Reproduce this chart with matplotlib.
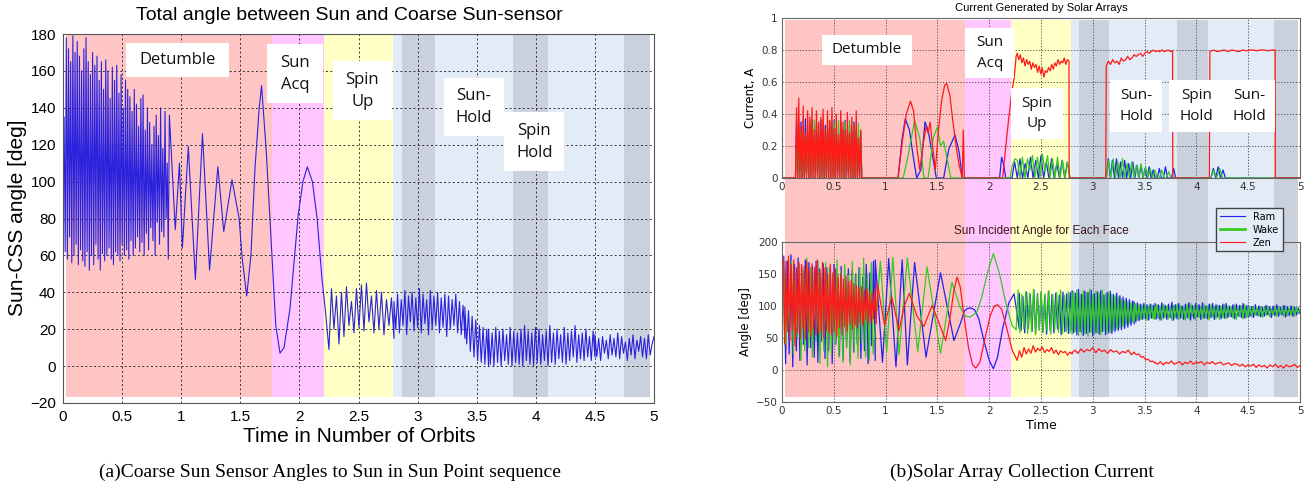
"""
Sun point sequence: CSS angle (left) and solar array current / face angles (right).
"""
import numpy as np
import matplotlib
matplotlib.use('Agg')
import matplotlib.pyplot as plt
from matplotlib.patches import Rectangle
from matplotlib.lines import Line2D

# ---------------- data ----------------
# left: total angle between Sun and CSS [deg]
css_detumble = [95, 135, 62, 178, 58, 172, 70, 165, 56, 179, 60, 170, 66, 176, 55, 168, 63, 160,
                57, 172, 54, 178, 62, 165, 52, 158, 60, 170, 55, 163, 66, 168, 58, 155, 52, 165,
                61, 150, 57, 166, 60, 160, 64, 145, 58, 162, 55, 155, 62, 163, 60, 148, 57, 158,
                66, 140, 60, 155, 63, 150, 58, 146, 68, 138, 60, 150, 64, 142, 70, 130, 62, 145,
                67, 147, 60, 128, 72, 140, 63, 132, 75, 120, 68, 130, 60, 136, 78, 125, 66, 140,
                73, 118, 70, 138, 80, 110, 58, 136]
css_slow_t = [0.9, 0.95, 0.985, 1.01, 1.06, 1.12, 1.18, 1.24, 1.31, 1.36, 1.43, 1.49, 1.515, 1.554,
              1.59, 1.624, 1.66, 1.68, 1.72, 1.766, 1.80, 1.836, 1.87, 1.92, 1.99, 2.03, 2.067,
              2.11, 2.15, 2.19, 2.22]
css_slow = [136, 74, 110, 64, 119, 47, 126, 52, 108, 73, 101, 80, 59, 38, 60, 107, 140, 152, 116,
            62, 22, 7, 10, 31, 82, 100, 108, 100, 80, 48, 30]
css_spinup = [9, 42, 20, 38, 12, 40, 16, 43, 22, 35, 18, 42, 21, 44, 19, 45, 24, 38, 18, 41, 20,
              40, 17, 36, 22, 37, 15]
css_hold1 = [35, 20, 39, 18, 36, 22, 41, 17, 38, 24, 40, 19, 37, 21, 42, 18, 39, 23, 36, 17, 41,
             20, 38, 22, 40, 18, 37, 21, 39, 16, 38, 20, 36, 22, 39, 18, 35, 17, 33, 15]
css_decay = [32, 12, 30, 8, 27, 5, 25, 3, 22, 2, 21, 1, 20, 0]
css_hold2 = [20, 1, 18, 0, 21, 2, 19, 0, 20, 3, 17, 1, 21, 0, 19, 2, 18, 1, 20, 0, 22, 3, 19, 1,
             18, 0, 21, 2, 20, 1, 17, 3, 19, 0, 22, 2, 18, 1, 20, 4, 17, 2, 21, 1, 18, 3, 19, 5,
             22, 2, 17, 4, 18, 3, 20, 5, 16, 3, 19, 5]
css_hold3 = [17, 5, 15, 3, 16, 7, 14, 4, 17, 6, 15, 5, 18, 4, 16, 7, 13, 3, 15, 6, 17, 4, 14, 8,
             16, 5, 15, 4, 17, 6, 12, 16]

# right top: current [A]
ram_i_tumble = [0, 0.36, 0, 0.30, 0.05, 0.35, 0, 0.22, 0, 0.37, 0.02, 0.28, 0, 0.33, 0, 0.36,
                0.04, 0.25, 0, 0.34, 0, 0.30, 0, 0.36, 0.03, 0.20, 0, 0.33, 0, 0.29, 0, 0.35, 0,
                0.27, 0.02, 0.36, 0, 0.31, 0, 0.24, 0, 0.35, 0.03, 0.30, 0, 0.36, 0, 0.22, 0,
                0.33, 0, 0.28, 0, 0.35, 0, 0.30, 0, 0.25, 0, 0.29, 0]
ram_i_mid_t = [0.78, 1.12, 1.16, 1.19, 1.23, 1.27, 1.30, 1.34, 1.38, 1.41, 1.45, 1.49, 1.56, 1.61,
               1.67, 1.71, 1.74, 2.10, 2.12, 2.14, 2.16, 2.22]
ram_i_mid = [0, 0, 0.25, 0.37, 0.30, 0.12, 0, 0.05, 0.35, 0.30, 0.15, 0, 0, 0.18, 0.27, 0.16, 0,
             0, 0.13, 0.08, 0, 0]
ram_i_spin = [0, 0.10, 0, 0.12, 0, 0.09, 0, 0.13, 0, 0.11, 0, 0.14, 0, 0.10, 0, 0.12, 0, 0.09, 0,
              0.11, 0, 0.10, 0]
ram_i_hold = [0, 0.12, 0, 0.11, 0, 0.12, 0, 0.10, 0, 0.11, 0, 0.09, 0, 0.10, 0, 0.08, 0, 0.08, 0,
              0.06, 0, 0.07, 0, 0.05, 0, 0, 0.06, 0, 0, 0.07, 0, 0, 0, 0.06, 0]
ram_i_hold2 = [0, 0.06, 0, 0.07, 0, 0.05, 0]

wake_i_tumble = [0, 0.20, 0, 0.35, 0, 0.30, 0.02, 0.36, 0, 0.25, 0, 0.33, 0, 0.36, 0, 0.30, 0,
                 0.36, 0.03, 0.28, 0, 0.34, 0, 0.25, 0, 0.36, 0, 0.30, 0, 0.33, 0, 0.36, 0, 0.22,
                 0, 0.35, 0, 0.29, 0.02, 0.36, 0, 0.31, 0, 0.26, 0, 0.35, 0, 0.30, 0, 0.36, 0,
                 0.24, 0, 0.33, 0, 0.28, 0, 0.34, 0, 0.30, 0]
wake_i_mid_t = [0.78, 1.17, 1.22, 1.28, 1.33, 1.37, 1.41, 1.46, 1.50, 1.53, 1.56, 1.60, 1.63, 2.18]
wake_i_mid = [0, 0, 0.15, 0.36, 0.25, 0, 0, 0.25, 0.32, 0.20, 0.23, 0.10, 0, 0]
wake_i_spin = [0, 0.08, 0.12, 0.11, 0, 0.13, 0, 0.12, 0.05, 0.14, 0, 0.13, 0, 0.15, 0.04, 0.14, 0,
               0.12, 0, 0.13, 0, 0.11, 0, 0.10, 0]
wake_i_hold = [0, 0.11, 0, 0.12, 0, 0.10, 0, 0.12, 0, 0.09, 0, 0.10, 0, 0.08, 0, 0.09, 0, 0.07, 0,
               0.06, 0, 0.05, 0, 0, 0.05, 0, 0, 0.04, 0, 0, 0]
wake_i_hold2 = [0, 0.05, 0, 0.06, 0, 0]

zen_i_tumble = [0, 0.44, 0, 0.50, 0, 0.32, 0, 0.45, 0, 0.28, 0, 0.42, 0, 0.38, 0, 0.44, 0, 0.30,
                0, 0.42, 0, 0.35, 0, 0.38, 0, 0.43, 0, 0.30, 0, 0.42, 0, 0.36, 0, 0.44, 0, 0.31,
                0, 0.40, 0, 0.27, 0, 0.42, 0, 0.35, 0, 0.30, 0, 0.41, 0, 0.28, 0, 0.38, 0, 0.33,
                0, 0.42, 0, 0.25, 0, 0.30, 0]
zen_i_mid_t = [0.78, 1.12, 1.16, 1.20, 1.24, 1.27, 1.30, 1.33, 1.36, 1.39, 1.41, 1.43, 1.45, 1.48,
               1.51, 1.54, 1.57, 1.59, 1.62, 1.65, 1.68, 1.71, 1.74, 1.75, 1.76, 2.13, 2.16, 2.19,
               2.22, 2.24, 2.26]
zen_i_mid = [0, 0, 0.22, 0.40, 0.48, 0.42, 0.20, 0.05, 0.20, 0.32, 0.28, 0.35, 0.22, 0.05, 0.30,
             0.48, 0.58, 0.59, 0.52, 0.35, 0.20, 0.08, 0, 0.30, 0, 0, 0.20, 0.38, 0.55, 0.62, 0.76]
zen_i_spin = [0.78, 0.74, 0.77, 0.72, 0.75, 0.70, 0.74, 0.71, 0.73, 0.68, 0.72, 0.69, 0.71, 0.66,
              0.70, 0.65, 0.69, 0.63, 0.67, 0.66, 0.69, 0.67, 0.71, 0.68, 0.72, 0.70, 0.74, 0.71,
              0.73, 0.72, 0.75, 0.71, 0.74, 0.73]
zen_i_hold = [0.70, 0.73, 0.71, 0.74, 0.72, 0.73, 0.71, 0.75, 0.73, 0.74, 0.76, 0.74, 0.75, 0.77,
              0.76, 0.77, 0.78, 0.76, 0.78, 0.79, 0.78, 0.79, 0.80, 0.79, 0.795, 0.79, 0.80, 0.79,
              0.795, 0.80, 0.79, 0.795]
zen_i_hold2 = [0.79, 0.80, 0.79, 0.795, 0.80, 0.79, 0.80, 0.795, 0.79, 0.80, 0.795, 0.80, 0.80,
               0.795, 0.80, 0.80, 0.795, 0.80, 0.80]

# right bottom: sun incident angle per face [deg]
ram_a_tumble = [60, 178, 10, 170, 25, 180, 5, 165, 30, 175, 15, 160, 40, 172, 8, 168, 35, 162, 20,
                170, 12, 158, 45, 166, 18, 160, 30, 155, 10, 165, 40, 150, 22, 162, 15, 148, 35,
                158, 12, 155, 28, 150, 40, 160, 18, 145, 30, 165, 10, 152, 38, 170, 15]
ram_a_slow_t = [0.9, 0.97, 1.03, 1.10, 1.16, 1.21, 1.28, 1.39, 1.53, 1.66, 1.72, 1.76, 1.79, 1.82,
                1.86, 1.90, 1.95, 2.0, 2.04, 2.08, 2.13, 2.19, 2.24, 2.29]
ram_a_slow = [172, 12, 174, 5, 172, 8, 168, 20, 152, 46, 72, 92, 96, 97, 94, 80, 45, 15, 2, 20, 65,
              105, 119, 65]
ram_a_spin = [120, 62, 115, 58, 122, 65, 118, 60, 125, 57, 119, 63, 121, 59, 116, 56, 123, 61, 118,
              58, 120, 64, 117, 55, 122, 60, 119, 57, 121, 62]
ram_a_hold1 = [124, 58, 120, 55, 126, 60, 118, 54, 123, 57, 121, 59, 125, 53, 119, 58, 122, 56,
               124, 60, 117, 55, 121, 58, 123, 57, 118, 60, 120, 62, 116, 63, 114, 65, 112, 67,
               110, 70, 108, 72]
ram_a_decay = [106, 75, 105, 77, 103, 79, 104, 80, 102, 78, 103, 81, 101, 80]
ram_a_hold2 = [104, 80, 102, 78, 105, 81, 101, 79, 103, 82, 106, 78, 102, 80, 104, 81, 100, 79,
               103, 82, 105, 78, 101, 80, 104, 83, 102, 79, 105, 81, 100, 80, 103, 82, 104, 79,
               102, 83, 101, 80, 103, 81, 104, 82, 100, 83, 102, 80, 103, 84, 101, 82, 104, 81,
               100, 83]
ram_a_hold3 = [101, 84, 99, 82, 102, 85, 100, 83, 98, 84, 101, 86, 99, 82, 100, 85, 102, 84, 98,
               86, 101, 83, 99, 85, 100, 84, 98, 86, 97, 88]

wake_a_tumble = [30, 150, 40, 120, 60, 170, 25, 140, 50, 165, 15, 155, 30, 175, 35, 160, 20, 150,
                 45, 170, 10, 145, 30, 168, 5, 160, 25, 150, 40, 172, 20, 155, 12, 165, 35, 148,
                 8, 170, 30, 150, 18, 160, 42, 175, 20, 150, 15, 168, 28]
wake_a_slow_t = [0.88, 0.95, 1.01, 1.07, 1.13, 1.21, 1.31, 1.40, 1.53, 1.64, 1.72, 1.77, 1.82,
                 1.88, 1.93, 1.98, 2.04, 2.10, 2.16, 2.22, 2.26]
wake_a_slow = [25, 170, 28, 176, 24, 175, 29, 161, 26, 137, 98, 84, 83, 90, 115, 150, 182, 150,
               105, 70, 63]
wake_a_spin = [63, 125, 58, 118, 64, 122, 57, 120, 60, 126, 55, 117, 62, 123, 58, 119, 61, 124, 56,
               118, 63, 121, 59, 125, 57, 117, 60, 122, 58, 120]
wake_a_hold1 = [56, 122, 60, 125, 54, 119, 58, 124, 57, 121, 53, 126, 59, 118, 56, 123, 58, 120,
                55, 125, 61, 119, 57, 122, 59, 118, 62, 116, 64, 114, 66, 111, 68, 109, 71, 107,
                73, 105, 75, 104]
wake_a_decay = [76, 104, 78, 102, 79, 101, 80, 103, 78, 100, 81, 102, 80, 99]
wake_a_hold2 = [79, 102, 81, 99, 78, 103, 82, 100, 80, 98, 77, 101, 82, 103, 79, 100, 81, 99, 78,
                102, 80, 104, 83, 100, 79, 101, 82, 98, 80, 103, 81, 100, 78, 102, 83, 99, 80, 101,
                79, 98, 82, 102, 80, 100, 84, 99, 81, 101, 79, 98, 83, 100, 80, 102, 82, 99]
wake_a_hold3 = [85, 98, 83, 100, 86, 97, 84, 99, 82, 98, 85, 100, 83, 96, 86, 99, 84, 98, 87, 97,
                83, 100, 85, 96, 86, 99, 84, 98, 88, 95]

zen_a_tumble = [100, 175, 40, 170, 60, 178, 45, 165, 62, 172, 38, 160, 58, 168, 50, 165, 65, 162,
                48, 170, 60, 158, 52, 166, 64, 160, 55, 172, 58, 155, 60, 168, 50, 160, 62, 150,
                58, 165, 55, 152, 60, 158, 52, 145, 66, 150, 55, 142, 68, 146, 60, 138, 72, 140,
                64, 135, 70, 132, 66, 128, 74, 130, 70, 125, 78, 128, 72, 122, 75, 120, 80, 126,
                72, 118]
zen_a_slow_t = [0.92, 0.99, 1.06, 1.13, 1.18, 1.23, 1.30, 1.37, 1.41, 1.45, 1.50, 1.58, 1.62, 1.66,
                1.69, 1.72, 1.76, 1.80, 1.84, 1.87, 1.91, 1.96, 2.01, 2.05, 2.08, 2.12, 2.17, 2.22,
                2.27]
zen_a_slow = [135, 70, 114, 62, 100, 120, 85, 68, 85, 101, 80, 46, 80, 125, 145, 130, 80, 35, 8, 3,
              12, 50, 85, 100, 102, 95, 65, 32, 15]
zen_a_spin = [15, 30, 20, 35, 25, 33, 26, 38, 28, 34, 30, 36, 27, 32, 29, 35, 26, 31, 24, 30, 27,
              29, 23, 28, 25]
zen_a_hold1 = [27, 31, 26, 33, 28, 32, 30, 35, 27, 33, 29, 31, 26, 32, 28, 30, 25, 29, 27, 31, 24,
               28]
zen_a_decay = [27, 24, 25, 20, 21, 16, 17, 13, 14, 11]
zen_a_hold2 = [12, 9, 13, 8, 12, 10, 14, 9, 11, 13, 8, 12, 10, 14, 9, 12, 11, 13, 8, 12, 10, 13, 9,
               11, 12, 8, 10, 11, 7, 10, 9, 6, 9, 5, 8, 6, 9, 4, 8, 5, 7, 3, 8, 5, 9, 4, 7, 3, 8,
               5, 6, 9, 4, 7]

# mode phases (orbits)
phase_start = [0.025, 1.77, 2.21, 2.79]
phase_end = [1.77, 2.21, 2.79, 4.97]
phase_colors = ['#ffc4c4', '#ffc6ff', '#ffffc6', '#e3ebf6']
spin_hold_start = [2.87, 3.81, 4.75]
spin_hold_end = [3.15, 4.10, 4.97]
dark_band = '#cad1dc'


def seg(t0, t1, vals):
    return np.linspace(t0, t1, len(vals)), np.asarray(vals, float)


def pts(ts, vals):
    return np.asarray(ts, float), np.asarray(vals, float)


def join(*parts):
    return (np.concatenate([p[0] for p in parts]),
            np.concatenate([p[1] for p in parts]))


def draw_bands(ax, bottom, top, stretch=0.0):
    for a, b, c in zip(phase_start, phase_end, phase_colors):
        ax.add_patch(Rectangle((a, bottom), b - a + stretch, top - bottom, fc=c, ec='none', zorder=0.2))
    for a, b in zip(spin_hold_start, spin_hold_end):
        ax.add_patch(Rectangle((a, bottom), b - a + stretch, top - bottom, fc=dark_band, ec='none', zorder=0.3))


def box(ax, x0, x1, y0, y1, txt, size):
    ax.add_patch(Rectangle((x0, y0), x1 - x0, y1 - y0, fc='white', ec='none', zorder=3))
    ax.text((x0 + x1) / 2, (y0 + y1) / 2, txt, ha='center', va='center', fontsize=size,
            family='Open Sans', color='#111111', zorder=4, linespacing=1.5)


W, H = 1312, 487
fig = plt.figure(figsize=(W / 100, H / 100), dpi=100)
narrow = ['Liberation Sans Narrow', 'Liberation Sans']

# ---------------- left panel ----------------
ax = fig.add_axes([63 / W, 1 - 403 / H, 591 / W, 369 / H])
draw_bands(ax, -17, 180)
t, v = join(seg(0.0, 0.9, css_detumble), pts(css_slow_t, css_slow), seg(2.25, 2.80, css_spinup),
            seg(2.80, 3.40, css_hold1), seg(3.40, 3.60, css_decay), seg(3.60, 4.50, css_hold2),
            seg(4.50, 5.00, css_hold3))
ax.plot(t, v, color='#2b22dd', lw=0.8, zorder=2)
ax.set_xlim(0, 5)
ax.set_ylim(-20, 180)
ax.set_xticks(np.arange(0, 5.01, 0.5))
ax.set_xticklabels(['0', '0.5', '1', '1.5', '2', '2.5', '3', '3.5', '4', '4.5', '5'])
ax.set_yticks(np.arange(-20, 181, 20))
ax.set_axisbelow(True)
ax.grid(True, color='#333333', ls=(0, (2, 2.5)), lw=0.7)
ax.tick_params(length=0, labelsize=11, pad=5)
for lab in ax.get_xticklabels() + ax.get_yticklabels():
    lab.set_family(narrow)
for s in ax.spines.values():
    s.set_color('#555555')
box(ax, 0.534, 1.406, 156.5, 175, 'Detumble', 12)
box(ax, 1.726, 2.20, 142.5, 174.6, 'Sun\nAcq', 12)
box(ax, 2.285, 2.78, 133.5, 165.2, 'Spin\nUp', 12)
box(ax, 3.22, 3.73, 124.8, 156.1, 'Sun-\nHold', 12)
box(ax, 3.733, 4.24, 105.8, 137.5, 'Spin\nHold', 12)

fig.text(349 / W, 1 - 15 / H, 'Total angle between Sun and Coarse Sun-sensor', ha='center',
         va='center', fontsize=14, family=narrow)
fig.text(359 / W, 1 - 437 / H, 'Time in Number of Orbits', ha='center', va='center',
         fontsize=15, family=narrow)
fig.text(18 / W, 1 - 218 / H, 'Sun-CSS angle [deg]', ha='center', va='center', rotation=90,
         fontsize=15, family=narrow)
fig.text(330 / W, 1 - 472 / H, '(a)Coarse Sun Sensor Angles to Sun in Sun Point sequence',
         ha='center', va='center', fontsize=14, family='Liberation Serif')

# ---------------- right panel ----------------
c_ram, c_wake, c_zen = '#2222ee', '#33cc22', '#ff1a1a'
bg = fig.add_axes([782 / W, 1 - 397 / H, 518 / W, 377 / H])
bg.set_xlim(0, 5)
bg.set_ylim(0, 1)
draw_bands(bg, 0, 1, stretch=0.01)
bg.axis('off')

top = fig.add_axes([782 / W, 1 - 178 / H, 518 / W, 160 / H], facecolor='none')
t, v = join(pts([0.0], [0]), seg(0.13, 0.77, ram_i_tumble), pts(ram_i_mid_t, ram_i_mid),
            seg(2.22, 2.78, ram_i_spin), pts([3.12], [0]), seg(3.13, 3.80, ram_i_hold),
            pts([4.13], [0]), seg(4.14, 4.28, ram_i_hold2), pts([5.0], [0]))
top.plot(t, v, color=c_ram, lw=0.9, zorder=2)
t, v = join(pts([0.0], [0]), seg(0.13, 0.77, wake_i_tumble), pts(wake_i_mid_t, wake_i_mid),
            seg(2.2, 2.78, wake_i_spin), pts([3.12], [0]), seg(3.13, 3.80, wake_i_hold),
            pts([4.13], [0]), seg(4.14, 4.28, wake_i_hold2), pts([5.0], [0]))
top.plot(t, v, color=c_wake, lw=0.9, zorder=2)
t, v = join(pts([0.0], [0]), seg(0.13, 0.77, zen_i_tumble), pts(zen_i_mid_t, zen_i_mid),
            seg(2.27, 2.77, zen_i_spin), pts([2.772, 3.125], [0, 0]), seg(3.13, 3.77, zen_i_hold),
            pts([3.772, 4.125], [0, 0]), seg(4.13, 4.76, zen_i_hold2), pts([4.762, 5.0], [0, 0]))
top.plot(t, v, color=c_zen, lw=0.9, zorder=2.5)
top.set_xlim(0, 5)
top.set_ylim(0, 1)
top.set_yticks(np.arange(0, 1.01, 0.2))
top.set_yticklabels(['0', '0.2', '0.4', '0.6', '0.8', '1'])
top.set_title('Current Generated by Solar Arrays', fontsize=8, pad=5, family=narrow)
top.set_ylabel('Current, A', fontsize=8.5, labelpad=3)
box(top, 0.39, 1.25, 0.708, 0.896, 'Detumble', 11)
box(top, 1.77, 2.24, 0.625, 0.94, 'Sun\nAcq', 11)
box(top, 2.21, 2.71, 0.244, 0.5625, 'Spin\nUp', 11)
box(top, 3.17, 3.67, 0.29, 0.61, 'Sun-\nHold', 11)
box(top, 3.74, 4.26, 0.29, 0.61, 'Spin\nHold', 11)
box(top, 4.26, 4.76, 0.29, 0.61, 'Sun-\nHold', 11)

bot = fig.add_axes([782 / W, 1 - 402 / H, 518 / W, 160 / H], facecolor='none')
t, v = join(seg(0.0, 0.9, ram_a_tumble), pts(ram_a_slow_t, ram_a_slow), seg(2.29, 2.80, ram_a_spin),
            seg(2.80, 3.40, ram_a_hold1), seg(3.40, 3.60, ram_a_decay), seg(3.60, 4.50, ram_a_hold2),
            seg(4.50, 5.00, ram_a_hold3))
bot.plot(t, v, color=c_ram, lw=0.9, zorder=2)
t, v = join(seg(0.0, 0.88, wake_a_tumble), pts(wake_a_slow_t, wake_a_slow),
            seg(2.26, 2.80, wake_a_spin), seg(2.80, 3.40, wake_a_hold1), seg(3.40, 3.60, wake_a_decay),
            seg(3.60, 4.50, wake_a_hold2), seg(4.50, 5.00, wake_a_hold3))
bot.plot(t, v, color=c_wake, lw=0.9, zorder=2.1)
t, v = join(seg(0.0, 0.92, zen_a_tumble), pts(zen_a_slow_t, zen_a_slow), seg(2.27, 2.80, zen_a_spin),
            seg(2.80, 3.40, zen_a_hold1), seg(3.40, 3.60, zen_a_decay), seg(3.60, 5.00, zen_a_hold2))
bot.plot(t, v, color=c_zen, lw=0.9, zorder=2.2)
bot.set_xlim(0, 5)
bot.set_ylim(-50, 200)
bot.set_yticks(np.arange(-50, 201, 50))
bot.set_title('Sun Incident Angle for Each Face', fontsize=8.5, pad=6, color='#3a1616', family=narrow)
bot.set_ylabel('Angle [deg]', fontsize=8.5, labelpad=3)
bot.set_xlabel('Time', fontsize=9, labelpad=2)
handles = [Line2D([], [], color=c_ram, lw=0.8), Line2D([], [], color=c_wake, lw=2),
           Line2D([], [], color=c_zen, lw=0.8)]
bot.legend(handles, ['Ram', 'Wake', 'Zen'], loc='upper right', bbox_to_anchor=(1288 / W, 1 - 203 / H),
           bbox_transform=fig.transFigure, fontsize=7, frameon=True, fancybox=False,
           edgecolor='#444444', framealpha=1, facecolor='#e3ebf6', handlelength=2.6,
           borderpad=0.4, labelspacing=0.3)

for a in (top, bot):
    a.set_xticks(np.arange(0, 5.01, 0.5))
    a.set_xticklabels(['0', '0.5', '1', '1.5', '2', '2.5', '3', '3.5', '4', '4.5', '5'])
    a.grid(True, color='#444444', ls=(0, (1.5, 2)), lw=0.6)
    a.tick_params(length=0, labelsize=7.5, labelcolor='#333333', pad=3)
    for s in a.spines.values():
        s.set_color('#666666')
        s.set_linewidth(0.8)

fig.text(1022 / W, 1 - 472 / H, '(b)Solar Array Collection Current', ha='center', va='center',
         fontsize=14, family='Liberation Serif')

fig.savefig('out.png', dpi=100)
